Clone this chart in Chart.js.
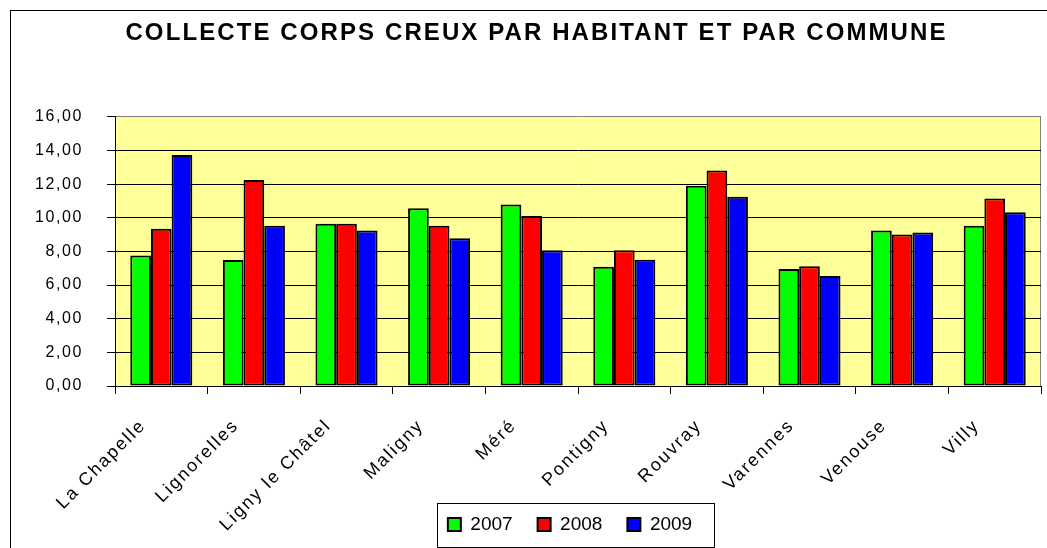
<!DOCTYPE html>
<html>
<head>
<meta charset="utf-8">
<script src="https://cdn.jsdelivr.net/npm/chart.js@4/dist/chart.umd.min.js"></script>
<style>
html,body{margin:0;padding:0;background:#fff;}
#wrap{width:1047px;height:548px;position:relative;}
</style>
</head>
<body>
<div id="wrap"><canvas id="c" width="1047" height="548"></canvas></div>
<script>
const titleText = 'COLLECTE CORPS CREUX PAR HABITANT ET PAR COMMUNE';
const communes = ['La Chapelle','Lignorelles','Ligny le Châtel','Maligny','Méré','Pontigny','Rouvray','Varennes','Venouse','Villy'];
const seriesNames = ['2007','2008','2009'];
const values2007 = [7.75, 7.49, 9.64, 10.57, 10.79, 7.09, 11.90, 6.95, 9.24, 9.53];
const values2008 = [9.34, 12.24, 9.64, 9.53, 10.10, 8.07, 12.81, 7.11, 9.00, 11.14];
const values2009 = [13.73, 9.53, 9.24, 8.78, 8.07, 7.51, 11.25, 6.54, 9.12, 10.33];
const yTicks = [0, 2, 4, 6, 8, 10, 12, 14, 16];

const FONT = "'Liberation Sans', Arial, sans-serif";

// letter spacing to mimic the widely spaced original text
(function(){
  const P = CanvasRenderingContext2D.prototype;
  const of = P.fillText, om = P.measureText;
  const sp = f => /bold/.test(f) ? '2.1px' : (/18px/.test(f) ? '2px' : (/16px/.test(f) ? '1.6px' : '0px'));
  P.fillText = function(t, x, y, m){ try{ this.letterSpacing = sp(this.font); }catch(e){} return m === undefined ? of.call(this, t, x, y) : of.call(this, t, x, y, m); };
  P.measureText = function(t){ try{ this.letterSpacing = sp(this.font); }catch(e){} return om.call(this, t); };
})();

const decor = {
  id: 'decor',
  afterLayout(chart){
    // place the legend over the lower part of the x-axis area, as in the original
    const lg = chart.legend;
    if (!lg) return;
    const h = 54, top = 490, shift = -8;
    lg.top = top; lg.bottom = top + h; lg.height = h;
    lg.left += shift; lg.right += shift;
  },
  beforeDraw(chart){
    const {ctx, chartArea: a} = chart;
    ctx.save();
    ctx.fillStyle = '#fff';
    ctx.fillRect(0, 0, chart.width, chart.height);
    ctx.strokeStyle = '#000';
    ctx.lineWidth = 1;
    ctx.strokeRect(10.5, 10.5, 1200, 700);
    ctx.fillStyle = '#FFFF99';
    ctx.fillRect(a.left, a.top, a.right - a.left, a.bottom - a.top);
    ctx.strokeStyle = '#808080';
    ctx.beginPath();
    ctx.moveTo(a.right - 0.5, a.top);
    ctx.lineTo(a.right - 0.5, a.bottom);
    ctx.stroke();
    ctx.restore();
  },
  afterDraw(chart){
    const lg = chart.legend;
    if (!lg || !lg.legendHitBoxes || !lg.legendHitBoxes.length) return;
    const hb = lg.legendHitBoxes;
    let l = Infinity, r = -Infinity, t = Infinity, b = -Infinity;
    hb.forEach(h => { l = Math.min(l, h.left); r = Math.max(r, h.left + h.width); t = Math.min(t, h.top); b = Math.max(b, h.top + h.height); });
    const ctx = chart.ctx;
    ctx.save();
    ctx.strokeStyle = '#000';
    ctx.lineWidth = 1;
    const x0 = Math.round(l - 11) + 0.5, x1 = Math.round(r + 22) + 0.5;
    const y0 = Math.round(t - 12) + 0.5, y1 = Math.round(b + 13) + 0.5;
    ctx.strokeRect(x0, y0, x1 - x0, y1 - y0);
    ctx.restore();
  }
};

const mk = (label, data, color) => ({
  label, data, backgroundColor: color, borderColor: '#000', borderWidth: 2,
  borderSkipped: false, categoryPercentage: 0.67, barPercentage: 1.0
});

new Chart(document.getElementById('c'), {
  type: 'bar',
  data: {
    labels: communes,
    datasets: [
      mk(seriesNames[0], values2007, '#00FF00'),
      mk(seriesNames[1], values2008, '#FF0000'),
      mk(seriesNames[2], values2009, '#0000FF')
    ]
  },
  options: {
    responsive: false,
    animation: false,
    devicePixelRatio: 1,
    layout: { padding: { left: 32, right: 6, top: 0, bottom: 0 } },
    plugins: {
      title: {
        display: true, text: titleText, color: '#000',
        font: { family: FONT, size: 24, weight: 'bold', lineHeight: 1.2 },
        padding: { top: 19, bottom: 69 }
      },
      legend: {
        position: 'bottom', fullSize: false, maxHeight: 1,
        labels: {
          color: '#000', font: { family: FONT, size: 19 },
          boxWidth: 13, boxHeight: 13, padding: 25
        }
      },
      tooltip: { enabled: false }
    },
    scales: {
      x: {
        grid: { offset: true, drawOnChartArea: false, drawTicks: true, tickLength: 8, color: '#000' },
        border: { display: true, color: '#000', width: 1 },
        ticks: { color: '#000', font: { family: FONT, size: 18 }, maxRotation: 45, minRotation: 45, autoSkip: false, padding: 21, labelOffset: -18 },
        afterFit(s){ s.height = 161; }
      },
      y: {
        min: 0, max: 16,
        afterBuildTicks(s){ s.ticks = yTicks.map(v => ({ value: v })); },
        grid: {
          color: c => (c.tick && c.tick.value === 16) ? '#808080' : '#000',
          tickColor: '#000', drawTicks: true, tickLength: 8, lineWidth: 1
        },
        border: { display: true, color: '#000', width: 1 },
        ticks: {
          color: '#000', font: { family: FONT, size: 16 }, padding: 24,
          callback: v => Number(v).toFixed(2).replace('.', ',')
        },
        afterFit(s){ s.width = 83; }
      }
    }
  },
  plugins: [decor]
});
</script>
</body>
</html>
